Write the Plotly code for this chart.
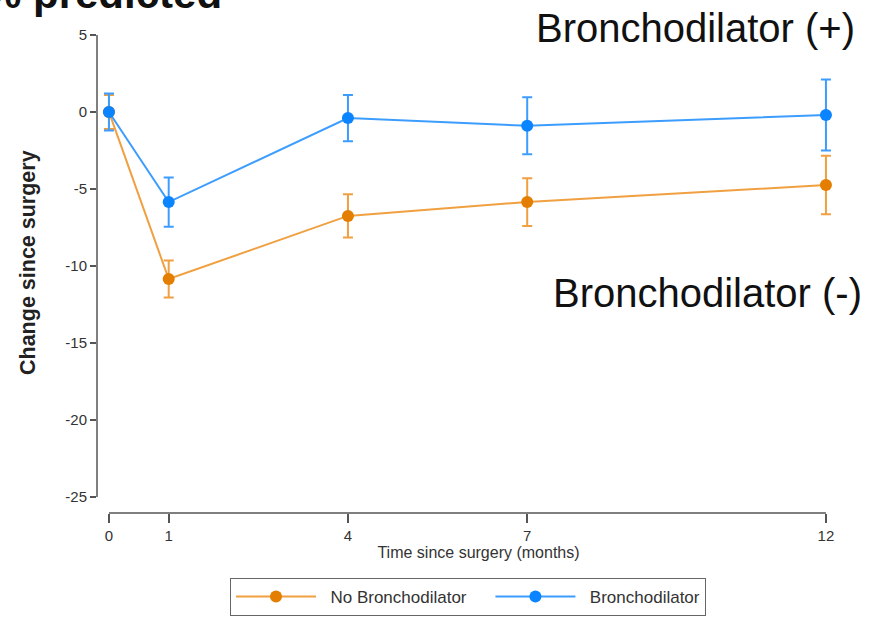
import plotly.graph_objects as go

months = [0, 1, 4, 7, 12]
no_bd_mean = [0.0, -10.85, -6.75, -5.85, -4.75]
no_bd_err = [1.1, 1.2, 1.4, 1.55, 1.9]
bd_mean = [0.0, -5.85, -0.4, -0.9, -0.2]
bd_err = [1.2, 1.6, 1.5, 1.85, 2.3]
series_names = ["No Bronchodilator", "Bronchodilator"]

y_ticks = [5, 0, -5, -10, -15, -20, -25]
y_ticktext = ["5", "0", "-5", "-10", "-15", "-20", "-25"]
x_ticks = [0, 1, 4, 7, 12]

FONT = "Liberation Sans, Arial, sans-serif"
ORANGE_LINE = "#F0A040"
ORANGE_MARK = "#E47E00"
BLUE_LINE = "#3C9DFF"
BLUE_MARK = "#0A84FF"
NB = "\u00a0"

fig = go.Figure()
fig.add_trace(go.Scatter(
    x=months, y=no_bd_mean, mode="lines+markers", name=NB * 2 + series_names[0] + NB * 4,
    line=dict(color=ORANGE_LINE, width=2),
    marker=dict(color=ORANGE_MARK, size=12),
    error_y=dict(type="data", array=no_bd_err, visible=True, color=ORANGE_LINE, thickness=2, width=5),
))
fig.add_trace(go.Scatter(
    x=months, y=bd_mean, mode="lines+markers", name=NB * 2 + series_names[1],
    line=dict(color=BLUE_LINE, width=2),
    marker=dict(color=BLUE_MARK, size=12),
    error_y=dict(type="data", array=bd_err, visible=True, color=BLUE_LINE, thickness=2, width=5),
))

L, T, R, B = 97, 30, 20, 106
W, H = 880, 619
pw, ph = W - L - R, H - T - B

def px_x(p):
    return (p - L) / pw

def px_y(p):
    return (H - B - p) / ph

fig.update_layout(
    width=W, height=H,
    margin=dict(l=L, r=R, t=T, b=B, autoexpand=False),
    plot_bgcolor="white", paper_bgcolor="white",
    font=dict(family=FONT, color="#333333", size=14),
    xaxis=dict(
        range=[-0.2, 12.57], tickvals=x_ticks, ticks="outside", ticklen=9,
        tickwidth=1.5, tickcolor="#555555", showline=False, showgrid=False,
        zeroline=False, tickfont=dict(size=15, color="#333333"), ticklabelstandoff=0,
        automargin=False,
        title=dict(text="Time since surgery (months)", font=dict(size=16, color="#333333"), standoff=3),
    ),
    yaxis=dict(
        range=[-26.04, 5.32], tickvals=y_ticks, ticktext=y_ticktext, ticks="outside",
        ticklen=6, tickwidth=1.5, tickcolor="#555555", showline=False, showgrid=False,
        zeroline=False, tickfont=dict(size=15, color="#333333"), automargin=False,
    ),
    legend=dict(
        orientation="h", xref="container", yref="container",
        x=468 / W, xanchor="center", y=1 - 578 / H, yanchor="top",
        bordercolor="#666666", borderwidth=1, font=dict(size=17, color="#333333"),
        itemwidth=80,
    ),
    showlegend=True,
)

# axis lines (Stata-style, spanning only the labelled range)
fig.add_shape(type="line", xref="paper", yref="y", x0=0, x1=0, y0=-25, y1=5,
              line=dict(color="#555555", width=1.5))
fig.add_shape(type="line", xref="x", yref="paper", x0=0, x1=12, y0=0, y1=0,
              line=dict(color="#555555", width=1.5))

fig.add_annotation(text="<b>Change since surgery</b>", textangle=-90, xref="paper", yref="paper",
                   x=px_x(28), y=px_y(263), xanchor="center", yanchor="middle", showarrow=False,
                   font=dict(size=21.5, color="#222222"))
fig.add_annotation(text="Bronchodilator (+)", xref="paper", yref="paper",
                   x=px_x(857), y=px_y(28), xanchor="right", yanchor="middle", showarrow=False,
                   font=dict(size=40, color="#111111"))
fig.add_annotation(text="Bronchodilator (-)", xref="paper", yref="paper",
                   x=px_x(864), y=px_y(293), xanchor="right", yanchor="middle", showarrow=False,
                   font=dict(size=40, color="#111111"))
fig.add_annotation(text="<b>% predicted</b>", xref="paper", yref="paper",
                   x=px_x(-18), y=px_y(-7), xanchor="left", yanchor="middle", showarrow=False,
                   font=dict(size=42, color="#111111"))

fig.write_html("out.html")
